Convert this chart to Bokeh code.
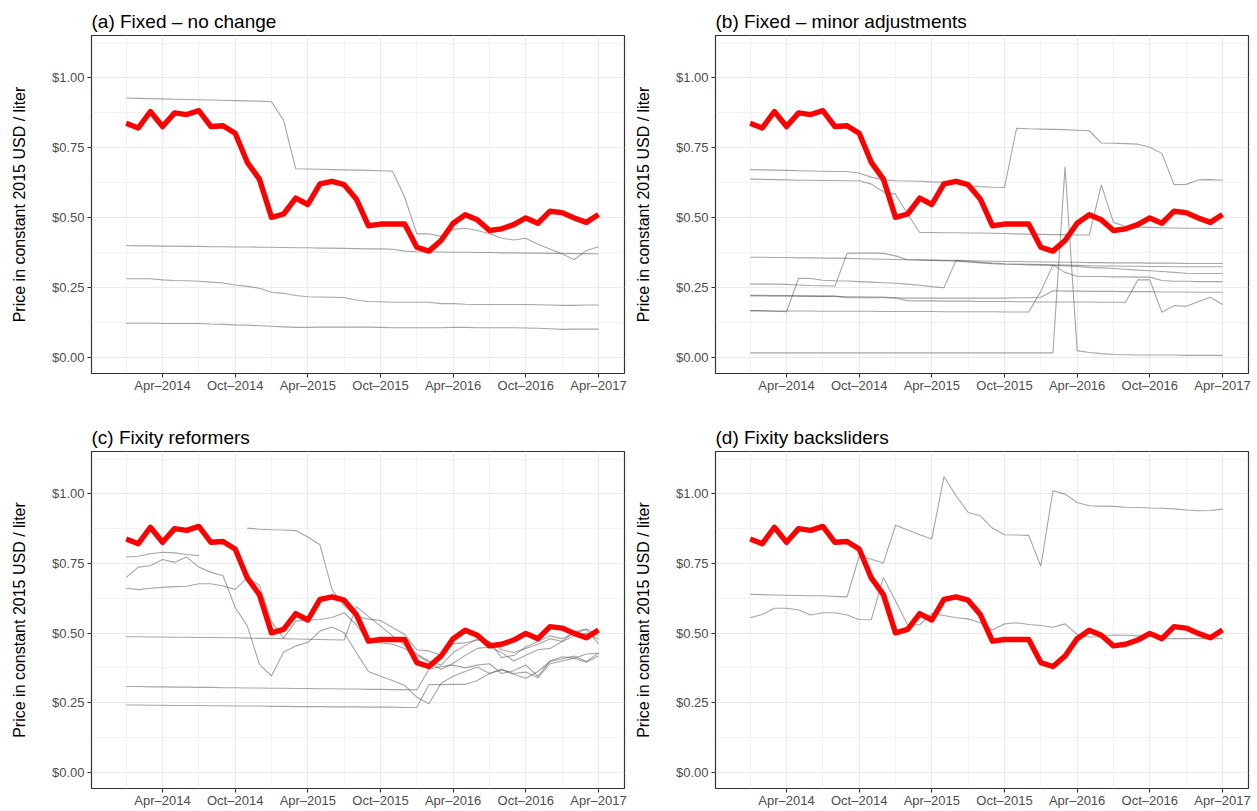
from bokeh.plotting import figure
from bokeh.models import Range1d, FixedTicker
from bokeh.layouts import column, row
from bokeh.embed import file_html
from bokeh.resources import INLINE

nan = float("nan")

# months since Jan 2014 (0 = Jan-2014 ... 39 = Apr-2017)
months = list(range(40))
x_ticks = [3, 9, 15, 21, 27, 33, 39]
x_tick_labels = ["Apr–2014", "Oct–2014", "Apr–2015", "Oct–2015", "Apr–2016", "Oct–2016", "Apr–2017"]
x_minor = [0, 6, 12, 18, 24, 30, 36]
y_ticks = [0, 0.25, 0.5, 0.75, 1]
y_tick_labels = ["$0.00", "$0.25", "$0.50", "$0.75", "$1.00"]
y_minor = [0.125, 0.375, 0.625, 0.875, 1.125]

titles = ["(a) Fixed – no change", "(b) Fixed – minor adjustments",
          "(c) Fixity reformers", "(d) Fixity backsliders"]
y_label = "Price in constant 2015 USD / liter"

# benchmark (red) series
red = [0.838, 0.821, 0.880, 0.826, 0.875, 0.869, 0.883, 0.826, 0.829, 0.802,
       0.698, 0.638, 0.501, 0.513, 0.570, 0.547, 0.621, 0.630, 0.618, 0.567,
       0.471, 0.477, 0.477, 0.477, 0.394, 0.380, 0.418, 0.480, 0.510, 0.492,
       0.454, 0.460, 0.475, 0.499, 0.480, 0.523, 0.518, 0.499, 0.483, 0.511]

# (a) Fixed - no change
a1 = [0.928, 0.927, 0.926, 0.925, 0.924, 0.923, 0.922, 0.921, 0.920, 0.919,
      0.918, 0.917, 0.915, 0.848, 0.675, 0.674, 0.673, 0.672, 0.671, 0.670,
      0.669, 0.668, 0.666, 0.573, 0.442, 0.442, 0.433, 0.458, 0.462, 0.454,
      0.442, 0.426, 0.420, 0.426, 0.405, 0.388, 0.370, 0.350, 0.382, 0.396]
a2 = [0.400, 0.399, 0.399, 0.398, 0.398, 0.397, 0.397, 0.396, 0.396, 0.395,
      0.395, 0.394, 0.394, 0.393, 0.392, 0.392, 0.391, 0.391, 0.390, 0.389,
      0.388, 0.388, 0.387, 0.380, 0.378, 0.377, 0.377, 0.376, 0.376, 0.375,
      0.375, 0.374, 0.374, 0.373, 0.373, 0.372, 0.372, 0.371, 0.371, 0.370]
a3 = [0.281, 0.281, 0.281, 0.277, 0.275, 0.274, 0.272, 0.269, 0.266, 0.259,
      0.254, 0.247, 0.233, 0.229, 0.221, 0.217, 0.216, 0.215, 0.214, 0.205,
      0.200, 0.199, 0.197, 0.197, 0.197, 0.197, 0.192, 0.192, 0.190, 0.189,
      0.189, 0.189, 0.189, 0.189, 0.188, 0.187, 0.186, 0.186, 0.187, 0.187]
a4 = [0.122, 0.122, 0.122, 0.121, 0.121, 0.121, 0.121, 0.119, 0.118, 0.116,
      0.115, 0.113, 0.111, 0.109, 0.107, 0.107, 0.108, 0.108, 0.108, 0.108,
      0.108, 0.107, 0.106, 0.106, 0.106, 0.106, 0.106, 0.107, 0.107, 0.106,
      0.106, 0.106, 0.106, 0.105, 0.104, 0.102, 0.100, 0.101, 0.101, 0.101]

# (b) Fixed - minor adjustments
b1 = [0.672, 0.671, 0.670, 0.669, 0.668, 0.667, 0.666, 0.665, 0.665, 0.659,
      0.645, 0.635, 0.632, 0.631, 0.630, 0.628, 0.627, 0.624, 0.614, 0.611,
      0.609, 0.608, 0.820, 0.818, 0.817, 0.816, 0.815, 0.813, 0.811, 0.767,
      0.766, 0.765, 0.763, 0.752, 0.730, 0.618, 0.619, 0.635, 0.636, 0.634]
b2 = [0.638, 0.637, 0.636, 0.635, 0.634, 0.634, 0.633, 0.633, 0.632, 0.632,
      0.620, 0.592, 0.584, 0.513, 0.447, 0.447, 0.446, 0.446, 0.445, 0.445,
      0.444, 0.443, 0.442, 0.441, 0.440, 0.439, 0.439, 0.438, 0.438, 0.617,
      0.483, 0.468, 0.466, 0.465, 0.464, 0.463, 0.462, 0.462, 0.461, 0.461]
b3 = [0.358, 0.358, 0.357, 0.357, 0.356, 0.356, 0.355, 0.355, 0.354, 0.353,
      0.352, 0.351, 0.350, 0.349, 0.349, 0.348, 0.347, 0.347, 0.346, 0.345,
      0.344, 0.343, 0.343, 0.342, 0.341, 0.341, 0.340, 0.340, 0.339, 0.339,
      0.338, 0.338, 0.338, 0.337, 0.337, 0.337, 0.336, 0.336, 0.336, 0.336]
b4 = [0.263, 0.262, 0.262, 0.261, 0.259, 0.257, 0.256, 0.255, 0.372, 0.373,
      0.373, 0.372, 0.363, 0.349, 0.348, 0.347, 0.346, 0.344, 0.341, 0.338,
      0.335, 0.333, 0.332, 0.331, 0.330, 0.329, 0.327, 0.325, 0.322, 0.320,
      0.318, 0.315, 0.312, 0.310, 0.307, 0.304, 0.301, 0.300, 0.300, 0.300]
b5 = [0.167, 0.166, 0.165, 0.163, 0.283, 0.282, 0.276, 0.274, 0.273, 0.271,
      0.269, 0.267, 0.265, 0.262, 0.258, 0.253, 0.249, 0.347, 0.343, 0.340,
      0.337, 0.335, 0.334, 0.333, 0.332, 0.331, 0.330, 0.329, 0.328, 0.327,
      0.327, 0.326, 0.326, 0.325, 0.325, 0.324, 0.324, 0.324, 0.324, 0.324]
b6 = [0.167, 0.167, 0.166, 0.166, 0.166, 0.166, 0.165, 0.165, 0.165, 0.165,
      0.165, 0.164, 0.164, 0.164, 0.164, 0.164, 0.163, 0.163, 0.163, 0.163,
      0.163, 0.162, 0.162, 0.162, 0.236, 0.330, 0.304, 0.290, 0.289, 0.289,
      0.288, 0.288, 0.287, 0.287, 0.275, 0.272, 0.272, 0.271, 0.271, 0.271]
b7 = [0.222, 0.222, 0.221, 0.221, 0.220, 0.220, 0.219, 0.219, 0.213, 0.213,
      0.213, 0.213, 0.213, 0.212, 0.212, 0.212, 0.212, 0.212, 0.212, 0.212,
      0.212, 0.212, 0.213, 0.213, 0.215, 0.238, 0.237, 0.237, 0.236, 0.236,
      0.236, 0.235, 0.235, 0.235, 0.234, 0.234, 0.234, 0.233, 0.233, 0.233]
b8 = [0.220, 0.220, 0.219, 0.219, 0.219, 0.218, 0.218, 0.218, 0.217, 0.217,
      0.216, 0.216, 0.212, 0.203, 0.202, 0.202, 0.201, 0.201, 0.201, 0.200,
      0.200, 0.200, 0.199, 0.199, 0.198, 0.198, 0.198, 0.198, 0.198, 0.197,
      0.197, 0.197, 0.277, 0.277, 0.161, 0.185, 0.183, 0.199, 0.215, 0.189]
b9 = [0.016, 0.016, 0.016, 0.016, 0.016, 0.016, 0.016, 0.016, 0.016, 0.016,
      0.016, 0.016, 0.016, 0.016, 0.016, 0.016, 0.016, 0.016, 0.016, 0.016,
      0.016, 0.016, 0.016, 0.016, 0.016, 0.016, 0.682, 0.024, 0.017, 0.013,
      0.010, 0.009, 0.008, 0.008, 0.008, 0.008, 0.007, 0.007, 0.007, 0.007]

# (c) Fixity reformers
c1 = [0.773, 0.776, 0.785, 0.790, 0.788, 0.782, 0.778, nan, nan, nan,
      nan, nan, nan, nan, nan, nan, nan, nan, nan, nan,
      nan, nan, nan, nan, nan, nan, nan, nan, nan, nan,
      nan, nan, nan, nan, nan, nan, nan, nan, nan, nan]
c2 = [0.700, 0.737, 0.742, 0.764, 0.754, 0.773, 0.737, 0.718, 0.706, 0.592,
      0.526, 0.388, 0.346, 0.432, 0.454, 0.466, 0.507, 0.522, 0.501, 0.430,
      0.362, 0.345, 0.330, 0.312, 0.270, 0.246, 0.320, 0.345, 0.362, 0.378,
      0.355, 0.368, 0.352, 0.338, 0.362, 0.398, 0.408, 0.418, 0.398, 0.428]
c3 = [0.661, 0.656, 0.661, 0.664, 0.667, 0.668, 0.677, 0.677, 0.669, 0.657,
      0.698, 0.672, 0.540, 0.482, 0.543, 0.547, 0.549, 0.556, 0.573, 0.530,
      0.470, 0.465, 0.460, 0.445, 0.420, 0.395, 0.370, 0.392, 0.420, 0.445,
      0.450, 0.430, 0.400, 0.420, 0.440, 0.445, 0.470, 0.490, 0.500, 0.478]
c4 = [nan, nan, nan, nan, nan, nan, nan, nan, nan, nan,
      0.877, 0.873, 0.871, 0.870, 0.868, 0.845, 0.817, 0.656, 0.598, 0.560,
      0.550, 0.545, 0.520, 0.495, 0.440, 0.436, 0.420, 0.462, 0.465, 0.475,
      0.470, 0.440, 0.430, 0.445, 0.460, 0.480, 0.470, 0.505, 0.515, 0.490]
c5 = [0.487, 0.487, 0.486, 0.486, 0.485, 0.485, 0.484, 0.484, 0.483, 0.483,
      0.482, 0.481, 0.481, 0.480, 0.479, 0.478, 0.477, 0.476, 0.475, 0.595,
      0.560, 0.525, 0.490, 0.455, 0.425, 0.400, 0.385, 0.430, 0.455, 0.480,
      0.470, 0.412, 0.420, 0.450, 0.470, 0.490, 0.480, 0.500, 0.512, 0.462]
c6 = [0.308, 0.308, 0.307, 0.307, 0.306, 0.306, 0.305, 0.305, 0.304, 0.304,
      0.303, 0.303, 0.302, 0.302, 0.301, 0.301, 0.300, 0.300, 0.299, 0.299,
      0.298, 0.298, 0.297, 0.297, 0.296, 0.370, 0.380, 0.385, 0.375, 0.385,
      0.390, 0.355, 0.365, 0.385, 0.345, 0.400, 0.415, 0.410, 0.395, 0.418]
c7 = [0.242, 0.242, 0.241, 0.241, 0.240, 0.240, 0.240, 0.239, 0.239, 0.238,
      0.238, 0.238, 0.237, 0.237, 0.236, 0.236, 0.236, 0.235, 0.235, 0.235,
      0.234, 0.234, 0.234, 0.233, 0.233, 0.315, 0.315, 0.316, 0.316, 0.330,
      0.355, 0.370, 0.355, 0.360, 0.340, 0.390, 0.400, 0.410, 0.425, 0.428]

# (d) Fixity backsliders
d1 = [0.639, 0.638, 0.637, 0.636, 0.635, 0.634, 0.634, 0.632, 0.630, 0.776,
      0.765, 0.752, 0.887, 0.870, 0.853, 0.838, 1.062, 0.993, 0.933, 0.921,
      0.877, 0.853, 0.852, 0.851, 0.740, 1.011, 0.999, 0.969, 0.957, 0.956,
      0.955, 0.952, 0.951, 0.949, 0.948, 0.946, 0.942, 0.939, 0.940, 0.945]
d2 = [0.555, 0.567, 0.589, 0.589, 0.583, 0.565, 0.573, 0.573, 0.565, 0.549,
      0.548, 0.700, 0.615, 0.530, 0.530, 0.570, 0.563, 0.555, 0.551, 0.537,
      0.511, 0.533, 0.537, 0.531, 0.527, 0.521, 0.533, 0.495, 0.486, 0.487,
      0.493, 0.492, 0.490, 0.492, 0.481, 0.480, 0.480, 0.480, 0.480, 0.480]

panels = [
    (titles[0], [a1, a2, a3, a4]),
    (titles[1], [b1, b2, b3, b4, b5, b6, b7, b8, b9]),
    (titles[2], [c1, c2, c3, c4, c5, c6, c7]),
    (titles[3], [d1, d2]),
]

FONT = "Liberation Sans"
F = 338
TOP = 35


def make_panel(title, greys, width, bl, br, height, bt, bb):
    p = figure(width=width, height=height, output_backend="svg", toolbar_location=None,
               x_range=Range1d(-2.865, 41.15), y_range=Range1d(-0.058, 1.152),
               min_border_left=bl, min_border_right=br,
               min_border_top=bt, min_border_bottom=bb)
    p.background_fill_color = "white"
    p.border_fill_color = "white"
    p.outline_line_color = "#333333"
    p.outline_line_width = 1.2

    p.title.text = title
    p.title.text_font = FONT
    p.title.text_font_size = "19px"
    p.title.text_font_style = "normal"
    p.title.text_color = "black"
    p.title.align = "left"
    p.title.vertical_align = "top"
    p.title.text_line_height = 1.4
    p.title.standoff = 4

    p.xaxis.ticker = FixedTicker(ticks=x_ticks, minor_ticks=x_minor)
    p.yaxis.ticker = FixedTicker(ticks=y_ticks, minor_ticks=y_minor)
    p.xaxis.major_label_overrides = dict(zip(x_ticks, x_tick_labels))
    p.yaxis.major_label_overrides = dict(zip(y_ticks, y_tick_labels))

    for ax in (p.xaxis, p.yaxis):
        ax.axis_line_color = None
        ax.major_tick_line_color = "#333333"
        ax.major_tick_line_width = 1.1
        ax.major_tick_out = 4
        ax.major_tick_in = 0
        ax.minor_tick_line_color = None
        ax.major_label_text_font = FONT
        ax.major_label_text_font_size = "13px"
        ax.major_label_text_color = "#4D4D4D"
    p.xaxis.major_label_standoff = 0
    p.yaxis.major_label_standoff = 3

    p.yaxis.axis_label = y_label
    p.yaxis.axis_label_text_font = FONT
    p.yaxis.axis_label_text_font_size = "16px"
    p.yaxis.axis_label_text_font_style = "normal"
    p.yaxis.axis_label_text_color = "black"
    p.yaxis.axis_label_standoff = 21

    for g in (p.xgrid, p.ygrid):
        g.grid_line_color = "#EBEBEB"
        g.grid_line_width = 1.2
        g.minor_grid_line_color = "#EBEBEB"
        g.minor_grid_line_width = 0.6

    for s in greys:
        p.line(months, s, line_color="#4D4D4D", line_alpha=0.5, line_width=1.1)
    p.line(months, red, line_color="#FF0000", line_width=5.4, line_join="round")
    return p


pa = make_panel(panels[0][0], panels[0][1], 628, 91, 4, TOP + F + 43, TOP, 43)
pb = make_panel(panels[1][0], panels[1][1], 629, 87, 9, TOP + F + 43, TOP, 43)
pc = make_panel(panels[2][0], panels[2][1], 628, 91, 4, TOP + F + 21, TOP, 21)
pd = make_panel(panels[3][0], panels[3][1], 629, 87, 9, TOP + F + 21, TOP, 21)

layout = column(row(pa, pb), row(pc, pd))
open("out.html", "w").write(file_html(layout, INLINE))
